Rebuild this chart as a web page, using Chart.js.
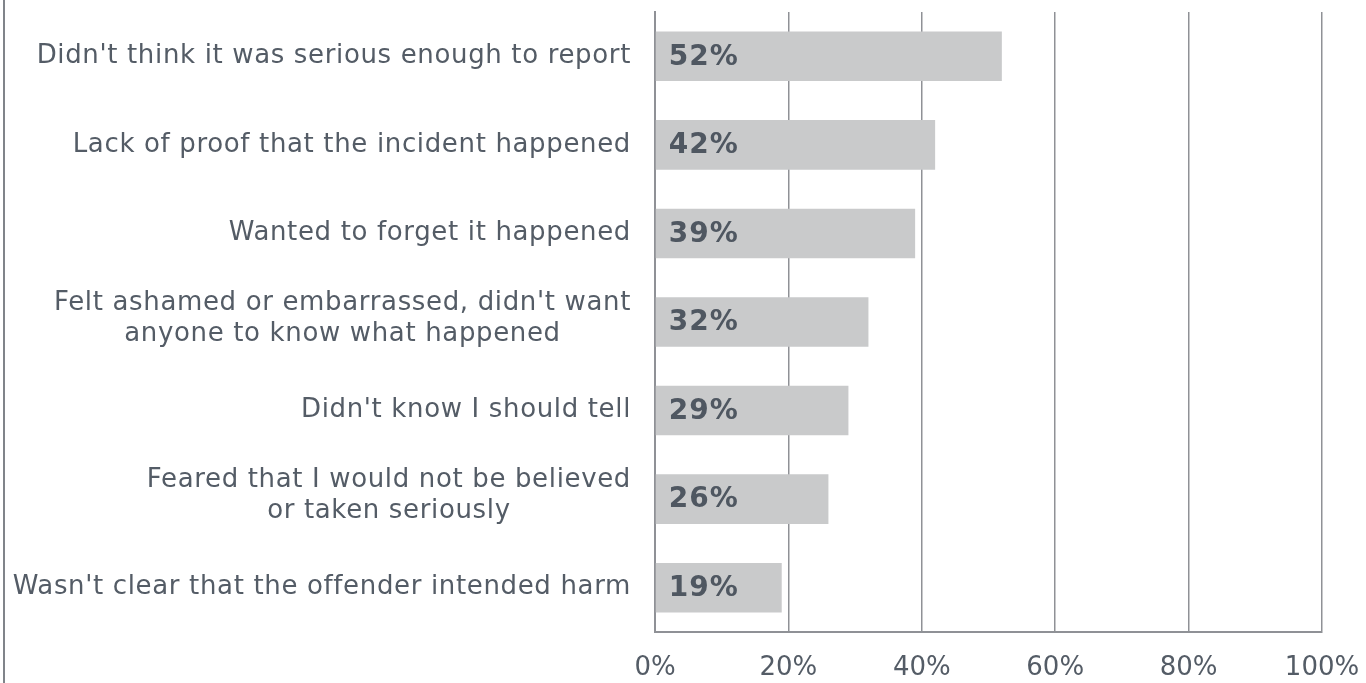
<!DOCTYPE html>
<html>
<head>
<meta charset="utf-8">
<script src="https://cdn.jsdelivr.net/npm/chart.js@4/dist/chart.umd.min.js"></script>
<style>
  html, body { margin: 0; padding: 0; background: #fff; }
  #wrap { width: 1366px; height: 683px; position: relative; }
</style>
</head>
<body>
<div id="wrap"><canvas id="reasonsChart"></canvas></div>
<script>
const reasons = [
  ["Didn't think it was serious enough to report"],
  ["Lack of proof that the incident happened"],
  ["Wanted to forget it happened"],
  ["Felt ashamed or embarrassed, didn't want", "anyone to know what happened"],
  ["Didn't know I should tell"],
  ["Feared that I would not be believed", "or taken seriously"],
  ["Wasn't clear that the offender intended harm"]
];
const shares = [52, 42, 39, 32, 29, 26, 19];
const xTicks = [0, 20, 40, 60, 80, 100];

const textColor = '#545c66';
const gridColor = '#8f9196';
const fontFamily = '"DejaVu Sans", Verdana, sans-serif';

// category text on the left, right-aligned as a block, each line centred
const categoryLabels = {
  id: 'categoryLabels',
  afterDraw(chart) {
    const ctx = chart.ctx;
    const y = chart.scales.y;
    const right = chart.chartArea.left - 24;
    ctx.save();
    ctx.font = '26px ' + fontFamily;
    ctx.letterSpacing = '0.65px';
    ctx.fillStyle = textColor;
    ctx.textBaseline = 'middle';
    ctx.textAlign = 'center';
    const lh = 31;
    reasons.forEach((lines, i) => {
      const widest = Math.max(...lines.map(l => ctx.measureText(l).width));
      const cx = right - widest / 2;
      const cy = y.getPixelForValue(i) - 3 * (lines.length - 1);
      lines.forEach((line, j) => {
        ctx.fillText(line, cx, cy + (j - (lines.length - 1) / 2) * lh);
      });
    });
    // thin frame line on the far left
    ctx.strokeStyle = '#80848a';
    ctx.lineWidth = 2;
    ctx.beginPath();
    ctx.moveTo(4, 0);
    ctx.lineTo(4, chart.height);
    ctx.stroke();
    ctx.restore();
  }
};

// value labels inside the bars
const valueLabels = {
  id: 'valueLabels',
  afterDatasetsDraw(chart) {
    const ctx = chart.ctx;
    const meta = chart.getDatasetMeta(0);
    ctx.save();
    ctx.font = 'bold 28px ' + fontFamily;
    ctx.letterSpacing = '1px';
    ctx.fillStyle = '#4f5761';
    ctx.textBaseline = 'middle';
    ctx.textAlign = 'left';
    meta.data.forEach((bar, i) => {
      ctx.fillText(shares[i] + '%', bar.base + 13, bar.y + 1);
    });
    ctx.restore();
  }
};

new Chart(document.getElementById('reasonsChart'), {
  type: 'bar',
  data: {
    labels: reasons,
    datasets: [{
      data: shares,
      backgroundColor: '#c9cacb',
      borderWidth: 0,
      categoryPercentage: 1,
      barPercentage: 0.56
    }]
  },
  options: {
    indexAxis: 'y',
    responsive: true,
    maintainAspectRatio: false,
    animation: false,
    layout: { padding: { top: 12, right: 44, left: 0, bottom: 0 } },
    plugins: {
      legend: { display: false },
      tooltip: { enabled: false }
    },
    scales: {
      x: {
        min: 0,
        max: 100,
        afterBuildTicks(scale) {
          scale.ticks = xTicks.map(v => ({ value: v }));
        },
        afterFit(scale) {
          scale.height = 51;
          scale.paddingLeft = 0;
          scale.paddingRight = 0;
        },
        grid: { color: gridColor, lineWidth: 1.5, drawTicks: false },
        border: { display: true, color: gridColor, width: 2 },
        ticks: {
          padding: 21,
          color: textColor,
          font: { family: fontFamily, size: 26 },
          callback: v => v + '%'
        }
      },
      y: {
        afterFit(scale) { scale.width = 655; },
        grid: { display: false },
        border: { display: true, color: gridColor, width: 2 },
        ticks: { display: false }
      }
    }
  },
  plugins: [categoryLabels, valueLabels]
});
</script>
</body>
</html>
